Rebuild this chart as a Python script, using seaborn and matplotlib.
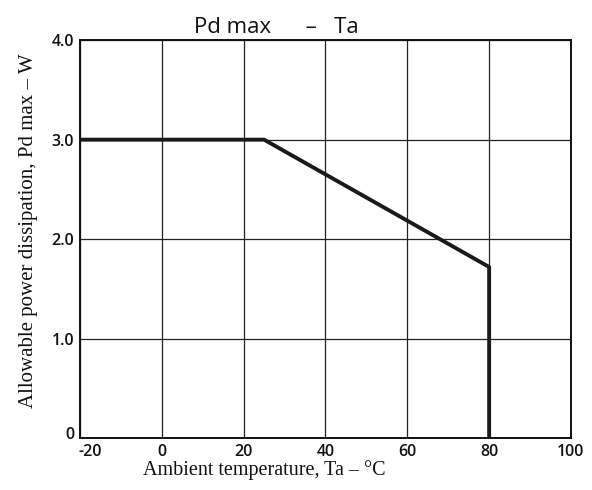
import matplotlib
matplotlib.use("Agg")
import matplotlib.pyplot as plt
import matplotlib.transforms as mtransforms
import seaborn as sns
import pandas as pd

# Data
ta = [-20, 25, 80, 80]
pd_max = [3.0, 3.0, 1.72, 0.0]
x_ticks = [-20, 0, 20, 40, 60, 80, 100]
x_labels = ["-20", "0", "20", "40", "60", "80", "100"]
y_ticks = [0, 1.0, 2.0, 3.0, 4.0]
y_labels = ["0", "1.0", "2.0", "3.0", "4.0"]

sns.set_style("white")
df = pd.DataFrame({"Ta": ta, "Pd": pd_max})

fig = plt.figure(figsize=(5.92, 4.9), dpi=100)
ax = fig.add_axes([0.135, 0.106, 0.8295, 0.812])

sns.lineplot(data=df, x="Ta", y="Pd", sort=False, estimator=None,
             color="#1a1a1a", linewidth=2.8, ax=ax, zorder=3)

ax.set_xlim(-20, 100)
ax.set_ylim(0, 4.0)
ax.set_xticks(x_ticks)
ax.set_xticklabels(x_labels)
ax.set_yticks(y_ticks)
ax.set_yticklabels(y_labels)
ax.grid(True, color="#222222", linewidth=0.9)
ax.tick_params(axis="both", length=0, labelsize=11.5, pad=4, labelcolor="#111111")
for lbl in ax.get_xticklabels() + ax.get_yticklabels():
    lbl.set_family("Open Sans")
    lbl.set_fontweight("semibold")

# shift the corner labels apart as in the reference
xl0 = ax.get_xticklabels()[0]
xl0.set_transform(xl0.get_transform() + mtransforms.ScaledTranslation(10 / 100, 0, fig.dpi_scale_trans))
yl0 = ax.get_yticklabels()[0]
yl0.set_transform(yl0.get_transform() + mtransforms.ScaledTranslation(0, 5 / 100, fig.dpi_scale_trans))

for s in ax.spines.values():
    s.set_color("#111111")
    s.set_linewidth(1.4)

ax.set_xlabel("Ambient temperature, Ta – °C", family="Liberation Serif",
              fontsize=14.5, color="#111111")
ax.xaxis.set_label_coords(0.375, -0.055)
ax.set_ylabel("Allowable power dissipation, Pd max – W", family="Liberation Serif",
              fontsize=15, color="#111111")
ax.yaxis.set_label_coords(-0.085, 0.52)
ax.set_title("Pd max      –   Ta", family="Open Sans", fontsize=16,
             color="#111111", pad=5, x=0.40)

fig.savefig("out.png", dpi=100, facecolor="white")
